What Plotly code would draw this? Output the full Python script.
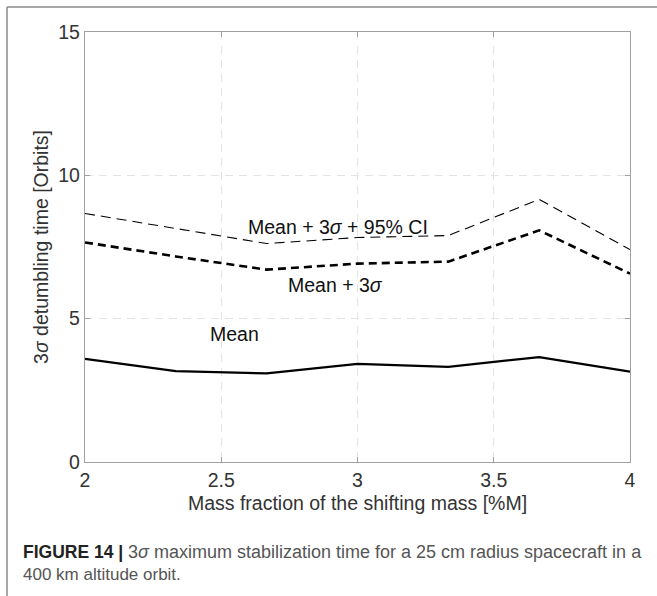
import plotly.graph_objects as go

mass_fraction = [2.0, 2.3333, 2.6667, 3.0, 3.3333, 3.6667, 4.0]
mean_time = [3.60, 3.17, 3.09, 3.42, 3.32, 3.66, 3.15]
mean_3sigma = [7.66, 7.17, 6.71, 6.92, 6.99, 8.08, 6.57]
mean_3sigma_ci = [8.67, 8.15, 7.62, 7.83, 7.90, 9.16, 7.41]

x_ticks = [2, 2.5, 3, 3.5, 4]
y_ticks = [0, 5, 10, 15]

FONT = "Liberation Sans, Arial, sans-serif"
W, H = 657, 596
L, R, T, B = 85, 27, 32, 134
PW, PH = W - L - R, H - T - B


def px_x(px):
    return (px - L) / PW


def px_y(py):
    return (H - B - py) / PH


fig = go.Figure()
fig.add_trace(go.Scatter(x=mass_fraction, y=mean_time, mode="lines",
                         line=dict(color="black", width=2.2), showlegend=False))
fig.add_trace(go.Scatter(x=mass_fraction, y=mean_3sigma, mode="lines",
                         line=dict(color="black", width=2.6, dash="8px,5px"), showlegend=False))
fig.add_trace(go.Scatter(x=mass_fraction, y=mean_3sigma_ci, mode="lines",
                         line=dict(color="black", width=1.1, dash="10px,6px"), showlegend=False))

axis_common = dict(showline=True, linecolor="#a0a0a0", linewidth=1.3, mirror="ticks",
                   ticks="inside", ticklen=5, tickcolor="#a0a0a0", tickwidth=1,
                   showgrid=True, gridcolor="#e4e4e4", gridwidth=1, griddash="8px,6px",
                   zeroline=False, tickfont=dict(family=FONT, size=19.5, color="#333333"),
                   title_font=dict(family=FONT, size=19.5, color="#333333"))

fig.update_xaxes(range=[2, 4], tickvals=x_ticks, ticktext=[str(v) for v in x_ticks],
                 title_text="Mass fraction of the shifting mass [%M]", title_standoff=6,
                 **axis_common)
fig.update_yaxes(range=[0, 15], tickvals=y_ticks, ticktext=[str(v) for v in y_ticks],
                 title_text="3<i>σ</i> detumbling time [Orbits]", title_standoff=4,
                 **axis_common)

ann_font = dict(family=FONT, size=19.5, color="#111111")
fig.add_annotation(x=2.93, y=8.2, text="Mean + 3<i>σ</i> + 95% CI", showarrow=False,
                   font=ann_font, xanchor="center", yanchor="middle")
fig.add_annotation(x=2.92, y=6.17, text="Mean + 3<i>σ</i>", showarrow=False,
                   font=ann_font, xanchor="center", yanchor="middle")
fig.add_annotation(x=2.547, y=4.47, text="Mean", showarrow=False,
                   font=ann_font, xanchor="center", yanchor="middle")

# caption
fig.add_annotation(xref="paper", yref="paper", x=px_x(21), y=px_y(552),
                   text="<b>FIGURE 14 |</b> <span style='color:#555555;font-size:18px'>3<i>σ</i> maximum stabilization time for a 25 cm radius spacecraft in a</span>",
                   showarrow=False, xanchor="left", yanchor="middle",
                   font=dict(family=FONT, size=17.5, color="#222222"))
fig.add_annotation(xref="paper", yref="paper", x=px_x(21), y=px_y(574),
                   text="400 km altitude orbit.",
                   showarrow=False, xanchor="left", yanchor="middle",
                   font=dict(family=FONT, size=17, color="#555555"))

# frame lines
fig.add_shape(type="line", xref="paper", yref="paper", x0=px_x(7), x1=px_x(660),
              y0=px_y(7), y1=px_y(7), line=dict(color="#8a8a8a", width=1.5))
fig.add_shape(type="line", xref="paper", yref="paper", x0=px_x(7), x1=px_x(7),
              y0=px_y(7), y1=px_y(600), line=dict(color="#8a8a8a", width=1.5))

fig.update_layout(width=W, height=H, margin=dict(l=L, r=R, t=T, b=B),
                  paper_bgcolor="white", plot_bgcolor="white")

fig.write_html("out.html")
